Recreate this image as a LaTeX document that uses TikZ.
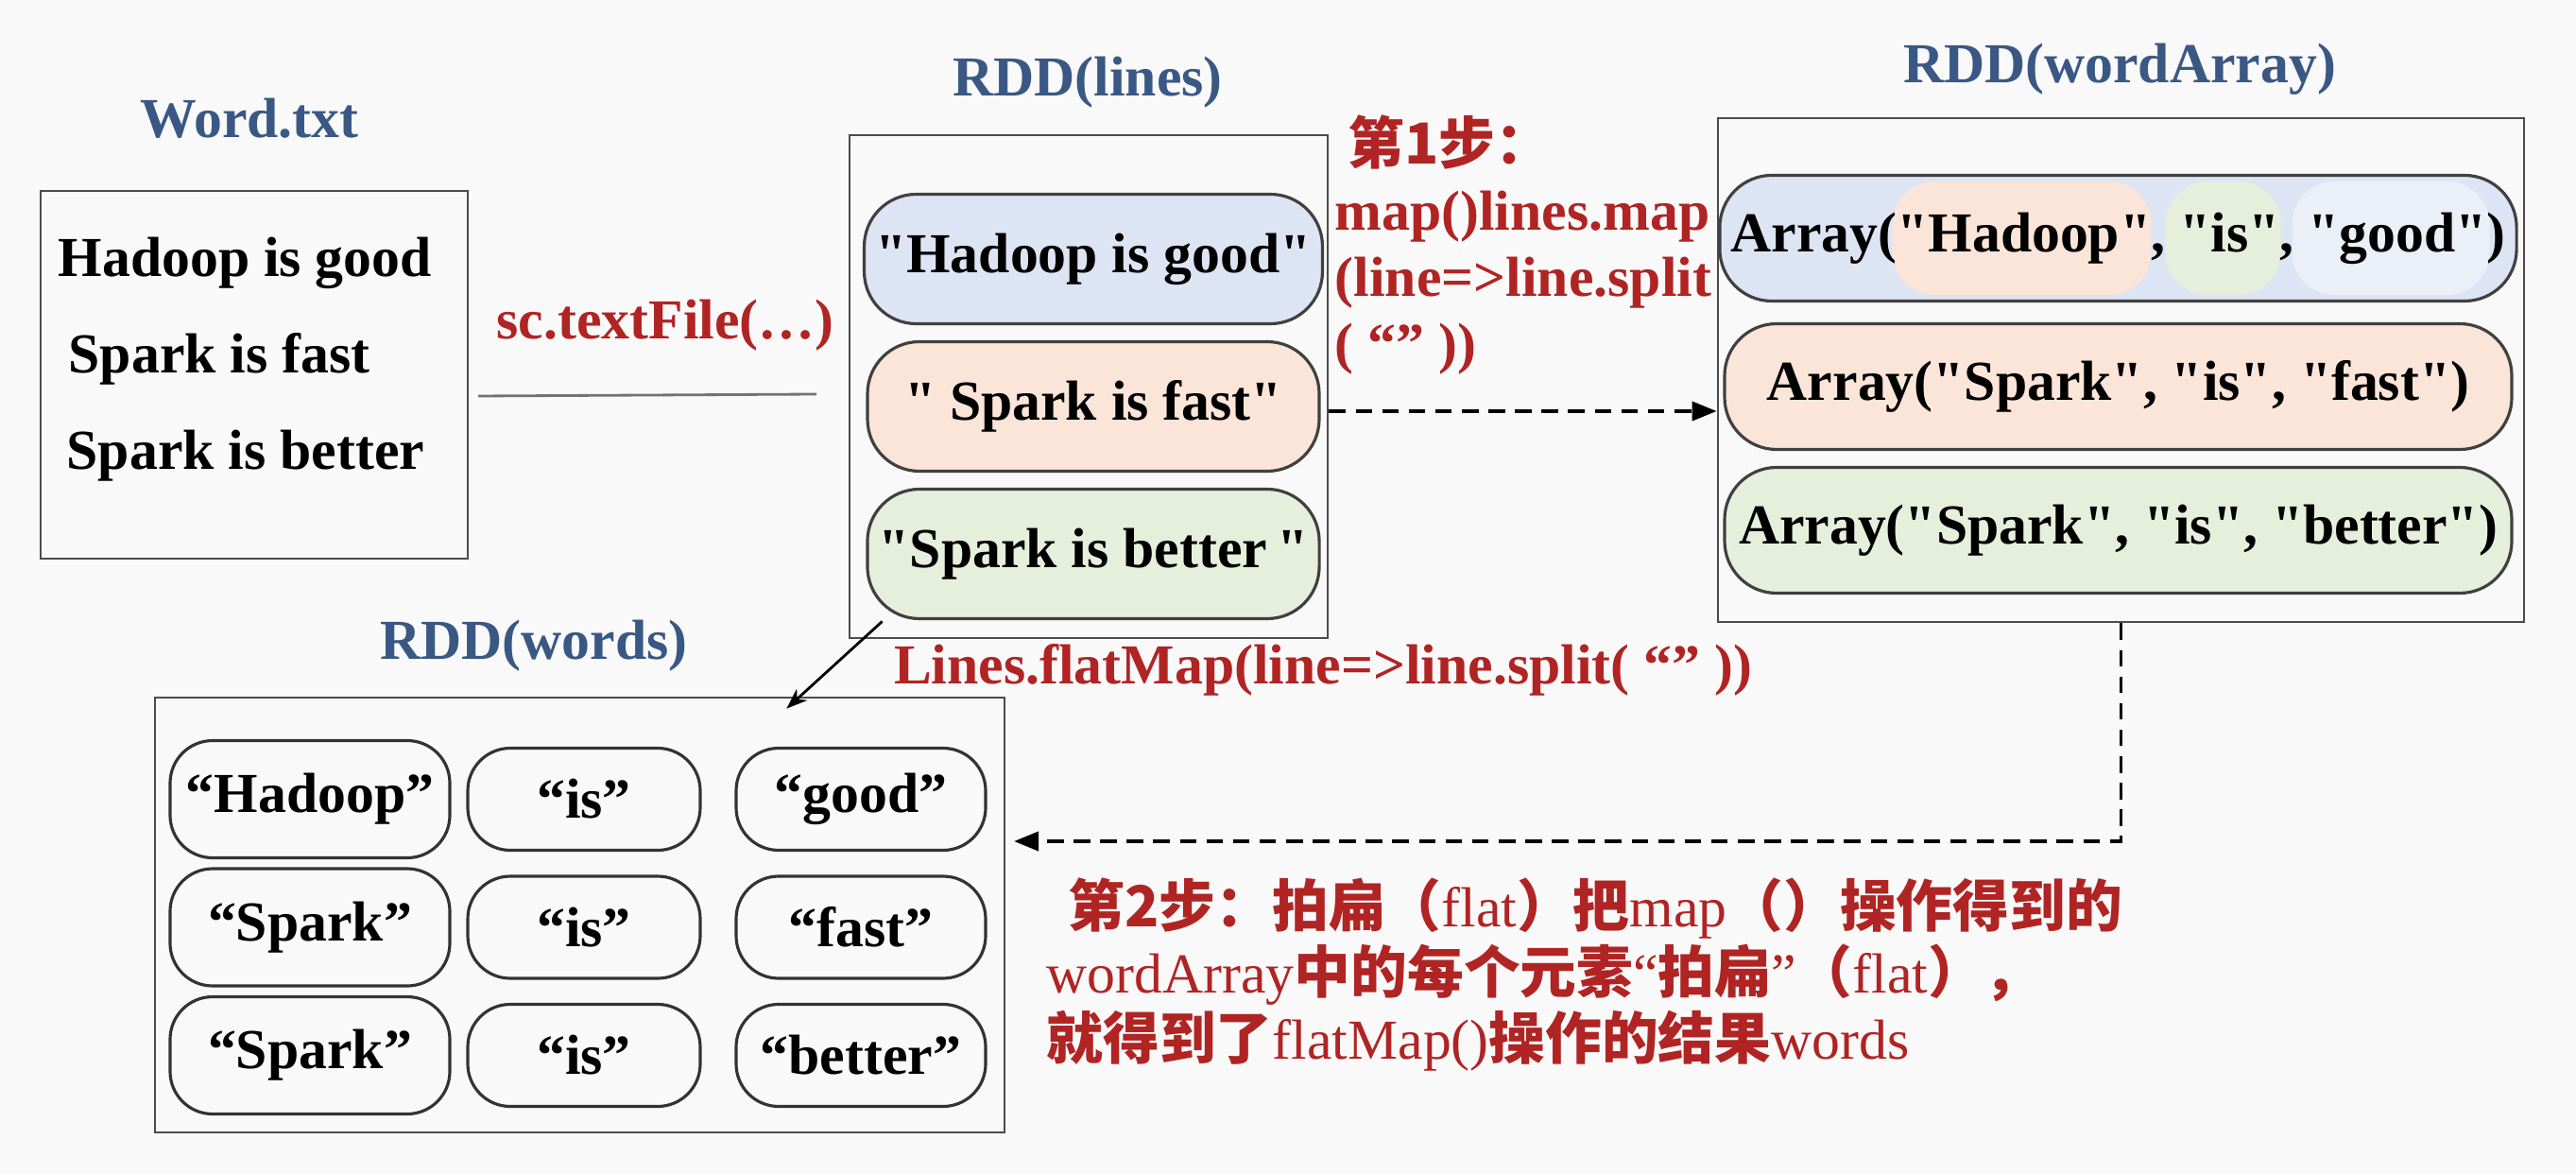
\documentclass[tikz,border=0pt]{standalone}
\usepackage{fontspec}
\setmainfont{Liberation Serif}[Ligatures=TeXOff]
\newfontfamily\cjk{Noto Sans CJK SC}
\usetikzlibrary{arrows.meta}
\definecolor{rddblue}{RGB}{58,88,132}
\definecolor{opred}{RGB}{176,36,36}
\definecolor{pillblue}{RGB}{221,228,243}
\definecolor{pillorange}{RGB}{250,229,216}
\definecolor{pillgreen}{RGB}{230,239,220}
\definecolor{bgpaper}{RGB}{249,249,249}
\newcommand{\zh}[1]{{\cjk\bfseries #1}}
\newcommand{\bigtext}{\fontsize{17}{20}\selectfont}
\tikzset{
  rddbox/.style={draw=black!70, line width=0.8pt},
  rddname/.style={text=rddblue, font=\bigtext\bfseries},
  opname/.style={text=opred, font=\bigtext\bfseries, inner sep=0pt},
  linepill/.style={draw=black!75, line width=0.9pt, rounded corners=0.55cm, minimum width=4.78cm, minimum height=1.37cm, font=\bigtext\bfseries},
  arraypill/.style={linepill, minimum width=8.33cm, minimum height=1.33cm},
  wordpill/.style={draw=black!80, line width=0.9pt, rounded corners=0.45cm, minimum height=1.08cm, font=\bigtext\bfseries},
  dasharrow/.style={line width=1.1pt, dash pattern=on 5pt off 3pt, -{Triangle[length=0.26cm,width=0.2cm]}}
}

\begin{document}
\begin{tikzpicture}
\path[use as bounding box, fill=bgpaper] (0,0) rectangle (27.26,-12.42);

\node[rddname] (wordlbl) at (2.64,-1.25) {Word.txt};
\node[rddbox, minimum width=4.52cm, minimum height=3.89cm] (wordtxt) at (2.69,-3.965) {};
\node[anchor=west, align=left, inner sep=0pt, font=\fontsize{17}{29}\selectfont\bfseries] (wordlines) at (0.61,-3.80) {Hadoop is good\\\hspace*{0.11cm}Spark is fast\\\hspace*{0.09cm}Spark is better};

\node[opname] (tflbl) at (7.04,-3.44) {sc.textFile(…)};
\coordinate (tfa) at (5.06,-4.19);
\coordinate (tfb) at (8.64,-4.17);
\draw[black!55, line width=0.8pt] (tfa) -- (tfb);

\node[rddname] (lineslbl) at (11.51,-0.87) {RDD(lines)};
\node[rddbox, minimum width=5.06cm, minimum height=5.32cm] (lines) at (11.52,-4.09) {};
\node[linepill, fill=pillblue] (l1) at (11.57,-2.74) {"Hadoop is good"};
\node[linepill, fill=pillorange] (l2) at (11.57,-4.30) {" Spark is fast"};
\node[linepill, fill=pillgreen] (l3) at (11.57,-5.86) {"Spark is better\,"};

\node[opname, anchor=west, align=left] (step1) at (14.12,-2.59) {\hspace*{0.14cm}\zh{第1步：}\\map()lines.map\\(line=>line.split\\( “” ))};

\node[rddname] (walbl) at (22.43,-0.73) {RDD(wordArray)};
\node[rddbox, minimum width=8.53cm, minimum height=5.33cm] (wa) at (22.445,-3.915) {};
\node[arraypill, fill=pillblue, path picture={
  \fill[pillorange, rounded corners=0.45cm] ([xshift=-2.39cm,yshift=-0.6cm]path picture bounding box.center) rectangle ([xshift=0.35cm,yshift=0.6cm]path picture bounding box.center);
  \fill[pillgreen, rounded corners=0.45cm] ([xshift=0.5cm,yshift=-0.6cm]path picture bounding box.center) rectangle ([xshift=1.72cm,yshift=0.6cm]path picture bounding box.center);
  \fill[pillblue!60!white, rounded corners=0.45cm] ([xshift=1.84cm,yshift=-0.6cm]path picture bounding box.center) rectangle ([xshift=3.93cm,yshift=0.6cm]path picture bounding box.center);
}] (a1) at (22.415,-2.52) {Array("Hadoop", "is", "good")};
\node[arraypill, fill=pillorange] (a2) at (22.415,-4.09) {Array("Spark", "is", "fast")};
\node[arraypill, fill=pillgreen] (a3) at (22.415,-5.61) {Array("Spark", "is", "better")};

\draw[dasharrow] ([yshift=-0.26cm]lines.east) -- ([yshift=-0.26cm]lines.east -| wa.west);

\node[rddname] (wordslbl) at (5.65,-6.83) {RDD(words)};
\node[rddbox, minimum width=8.99cm, minimum height=4.60cm] (words) at (6.135,-9.68) {};
\foreach \a/\b/\c [count=\r] in {Hadoop/is/good,Spark/is/fast,Spark/is/better}{
  \node[wordpill, minimum width=2.96cm, minimum height=1.24cm] (w\r-a) at (3.28,{-7.10-1.355*\r}) {“\a”};
  \node[wordpill, minimum width=2.46cm] (w\r-b) at (6.18,{-7.10-1.355*\r}) {“\b”};
  \node[wordpill, minimum width=2.64cm] (w\r-c) at (9.11,{-7.10-1.355*\r}) {“\c”};
}

\draw[line width=0.8pt, -{Stealth[length=0.22cm]}] ([xshift=0.36cm,yshift=0.19cm]lines.south west) -- ([xshift=-2.32cm,yshift=-0.13cm]words.north east);
\node[opname] (fmlbl) at (14.0,-7.09) {Lines.flatMap(line=>line.split( “” ))};

\coordinate (back) at (10.73,-8.90);
\draw[dasharrow] (wa.south) |- (back);

\node[opname, font=\bigtext, anchor=west, align=left] (step2) at (11.07,-10.31) {\hspace*{0.23cm}\zh{第2步：拍扁（}flat\zh{）把}map\zh{（）操作得到的}\\wordArray\zh{中的每个元素}“\zh{拍扁}”\zh{（}flat\zh{），}\\\zh{就得到了}flatMap()\zh{操作的结果}words};
\end{tikzpicture}
\end{document}
